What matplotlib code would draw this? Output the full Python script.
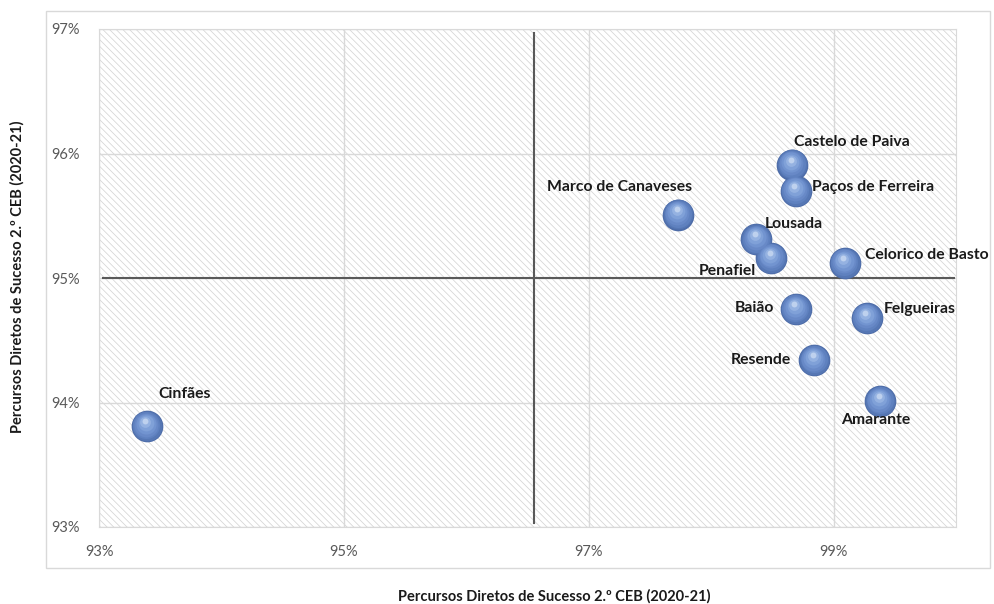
import matplotlib
matplotlib.use("Agg")
import matplotlib.pyplot as plt
from matplotlib.patches import Rectangle
from matplotlib.transforms import offset_copy
from matplotlib.ticker import FuncFormatter
import numpy as np

# data (percent values)
concelhos = ["Cinfães", "Marco de Canaveses", "Castelo de Paiva", "Paços de Ferreira",
             "Lousada", "Penafiel", "Celorico de Basto", "Baião", "Felgueiras",
             "Resende", "Amarante"]
percursos_3ceb = [93.39, 97.73, 98.66, 98.69, 98.37, 98.49, 99.09, 98.69, 99.27, 98.84, 99.38]
percursos_2ceb = [93.81, 95.51, 95.91, 95.70, 95.31, 95.16, 95.12, 94.75, 94.68, 94.34, 94.01]

media_x = 96.55
media_y = 95.0

x_ticks = [93, 95, 97, 99]
y_ticks = [93, 94, 95, 96, 97]

# label placement (offset pixels, alignment)
label_pos = {
    "Cinfães": (38, 32, "center"),
    "Marco de Canaveses": (-59, 28, "center"),
    "Castelo de Paiva": (2, 23, "left"),
    "Paços de Ferreira": (16, 4, "left"),
    "Lousada": (8, 15, "left"),
    "Penafiel": (-15, -13, "right"),
    "Celorico de Basto": (20, 8, "left"),
    "Baião": (-21, 1, "right"),
    "Felgueiras": (17, 9, "left"),
    "Resende": (-23, 0, "right"),
    "Amarante": (-4, -19, "center"),
}

plt.rcParams['font.family'] = ['Lato', 'DejaVu Sans']
plt.rcParams['hatch.linewidth'] = 0.55
plt.rcParams['hatch.color'] = '#d5d5d5'

fig = plt.figure(figsize=(9.94, 6.04), dpi=100)

# outer chart frame
fig.patches.append(Rectangle((46 / 994, 1 - 568 / 604), (990 - 46) / 994, (568 - 11) / 604,
                             transform=fig.transFigure, fill=False, edgecolor='#d9d9d9', lw=1))

ax = fig.add_axes([99 / 994, 1 - 527 / 604, (956 - 99) / 994, (527 - 29) / 604])
ax.set_xlim(93, 100)
ax.set_ylim(93, 97)

# hatched plot area
ax.add_patch(Rectangle((0, 0), 1, 1, transform=ax.transAxes, facecolor='white',
                       edgecolor='#d5d5d5', hatch='\\\\\\\\\\', lw=0, zorder=0))

ax.set_xticks(x_ticks)
ax.set_yticks(y_ticks)
ax.xaxis.set_major_formatter(FuncFormatter(lambda v, p: f"{v:.0f}%"))
ax.yaxis.set_major_formatter(FuncFormatter(lambda v, p: f"{v:.0f}%"))
ax.grid(True, color='#d9d9d9', lw=1, zorder=1)
ax.set_axisbelow(True)
ax.tick_params(length=0, labelsize=10.5, colors='#595959', pad=13)
ax.tick_params(axis='y', pad=14)
for s in ax.spines.values():
    s.set_color('#d9d9d9')

# average reference lines
ax.plot([media_x, media_x], [93.03, 96.97], color='#595959', lw=1.5, zorder=3)
ax.plot([93.03, 99.98], [media_y, media_y], color='#595959', lw=1.5, zorder=3)

# pseudo 3D spheres
x = np.array(percursos_3ceb)
y = np.array(percursos_2ceb)
layers = [
    (520, '#4d6ca8', 0, 0),
    (460, '#5677b4', 0, 0.3),
    (380, '#5f81bf', -0.3, 0.9),
    (295, '#6889c7', -0.6, 1.6),
    (210, '#7294d0', -0.9, 2.4),
    (130, '#80a1d8', -1.1, 3.2),
    (60, '#95b2e1', -1.3, 4.2),
    (18, '#bed1ee', -1.4, 5.2),
]
for size, col, dx, dy in layers:
    tr = offset_copy(ax.transData, fig=fig, x=dx, y=dy, units='dots')
    ax.scatter(x, y, s=size, color=col, lw=0, transform=tr, zorder=4, clip_on=False)

for name, xv, yv in zip(concelhos, x, y):
    dx, dy, ha = label_pos[name]
    ax.annotate(name, (xv, yv), xytext=(dx, dy), textcoords='offset pixels',
                ha=ha, va='center', fontsize=11.3, fontweight='bold', color='#1a1a1a', zorder=5)

fig.text(554 / 994, 1 - 596 / 604, "Percursos Diretos de Sucesso 2.º CEB (2020-21)",
         ha='center', va='center', fontsize=10.5, fontweight='bold', color='#1a1a1a')
fig.text(17 / 994, 1 - 277 / 604, "Percursos Diretos de Sucesso 2.º CEB (2020-21)",
         ha='center', va='center', rotation=90, fontsize=10.5, fontweight='bold', color='#1a1a1a')

fig.savefig("out.png", dpi=100)
